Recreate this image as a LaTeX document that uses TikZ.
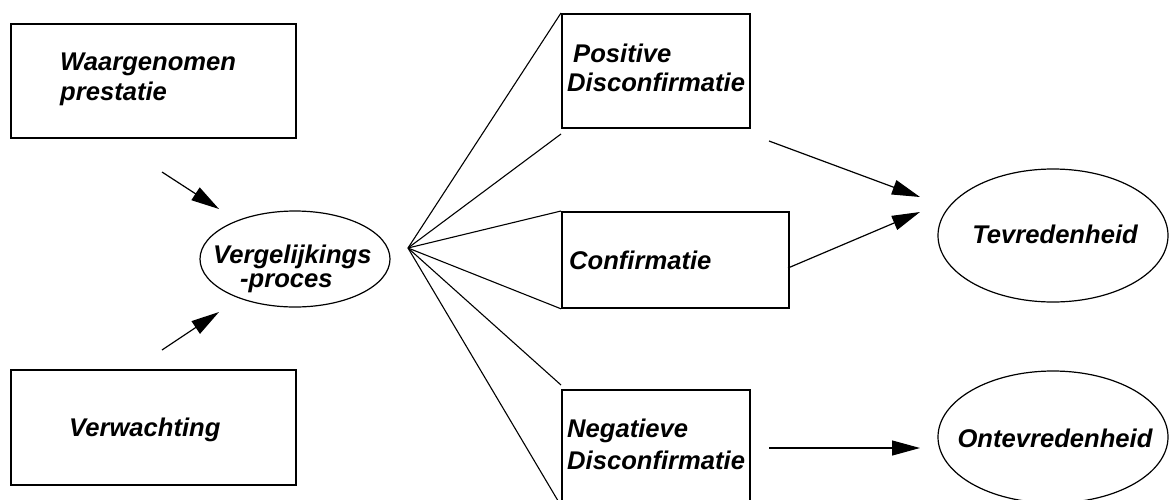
\documentclass[tikz,border=0pt]{standalone}
\usepackage{fontspec}
\setmainfont{Liberation Sans}
\usetikzlibrary{shapes.geometric,arrows.meta}
\newcommand\dfont[1]{\fontsize{25.6}{#1}\selectfont\bfseries\itshape}
\newcommand\twolines[2]{\begin{tabular}[t]{@{}l@{}}#1\\#2\end{tabular}}
\begin{document}
\begin{tikzpicture}[x=1pt,y=-1pt,
  boxshape/.style={draw, line width=1.8pt, rectangle, inner sep=0pt, anchor=north west},
  ovalshape/.style={draw, line width=1.2pt, ellipse, inner sep=0pt},
  lbl/.style={inner sep=0pt, anchor=base west},
  link/.style={line width=1.1pt},
  arr/.style={line width=1.2pt, -{Triangle[length=28pt,width=15pt]}},
]
\useasboundingbox (0,0) rectangle (1170,499);
\clip (0,0) rectangle (1170,499);

% shapes
\node[boxshape, minimum width=285pt, minimum height=114pt] (wp) at (10,23) {};
\node[boxshape, minimum width=285pt, minimum height=115pt] (vw) at (10,369) {};
\node[ovalshape, minimum width=190pt, minimum height=96pt] (vp) at (295,259) {};
\node[boxshape, minimum width=188pt, minimum height=114pt] (pd) at (561,13) {};
\node[boxshape, minimum width=227pt, minimum height=96pt] (cf) at (561,211) {};
\node[boxshape, minimum width=188pt, minimum height=115pt] (nd) at (561,389) {};
\node[ovalshape, minimum width=230pt, minimum height=133pt] (tv) at (1053,235.5) {};
\node[ovalshape, minimum width=230pt, minimum height=132pt] (otv) at (1053,437) {};

% texts
\node[lbl, font=\dfont{30}] (wpt) at (60,70) {\twolines{Waargenomen}{prestatie}};
\node[lbl, font=\dfont{30}] (vwt) at (69,436) {Verwachting};
\node[lbl, font=\dfont{24}] (vpt) at (213,263) {\twolines{Vergelijkings}{\hspace*{27pt}-proces}};
\node[lbl, font=\dfont{29}] (pdt) at (567,62) {\twolines{\hspace*{6pt}Positive}{Disconfirmatie}};
\node[lbl, font=\dfont{30}] (cft) at (569,269) {Confirmatie};
\node[lbl, font=\dfont{32}] (ndt) at (567,437) {\twolines{Negatieve}{Disconfirmatie}};
\node[inner sep=0pt, anchor=base, font=\dfont{30}] (tvt) at (1055,243) {Tevredenheid};
\node[inner sep=0pt, anchor=base, font=\dfont{30}] (otvt) at (1055,447) {Ontevredenheid};

% free ends
\coordinate (fan) at (408,248);
\coordinate (pdlow) at (561,134);
\coordinate (ndtop) at (561,385);
\coordinate (a1s) at (162,172);
\coordinate (a1e) at (219,209);
\coordinate (a2s) at (162,350);
\coordinate (a2e) at (219,312);
\coordinate (a3s) at (769,141);
\coordinate (a3e) at (920,197);
\coordinate (a4s) at (788,268);
\coordinate (a4e) at (920,212);
\coordinate (a5s) at (769,448);
\coordinate (a5e) at (920,448);

% fan lines
\draw[link] (fan) -- (pd.north west);
\draw[link] (fan) -- (pdlow);
\draw[link] (fan) -- (cf.north west);
\draw[link] (fan) -- (cf.south west);
\draw[link] (fan) -- (ndtop);
\draw[link] (fan) -- (nd.south west);

% arrows
\draw[arr] (a1s) -- (a1e);
\draw[arr] (a2s) -- (a2e);
\draw[arr] (a3s) -- (a3e);
\draw[arr] (a4s) -- (a4e);
\draw[arr] (a5s) -- (a5e);
\end{tikzpicture}
\end{document}
